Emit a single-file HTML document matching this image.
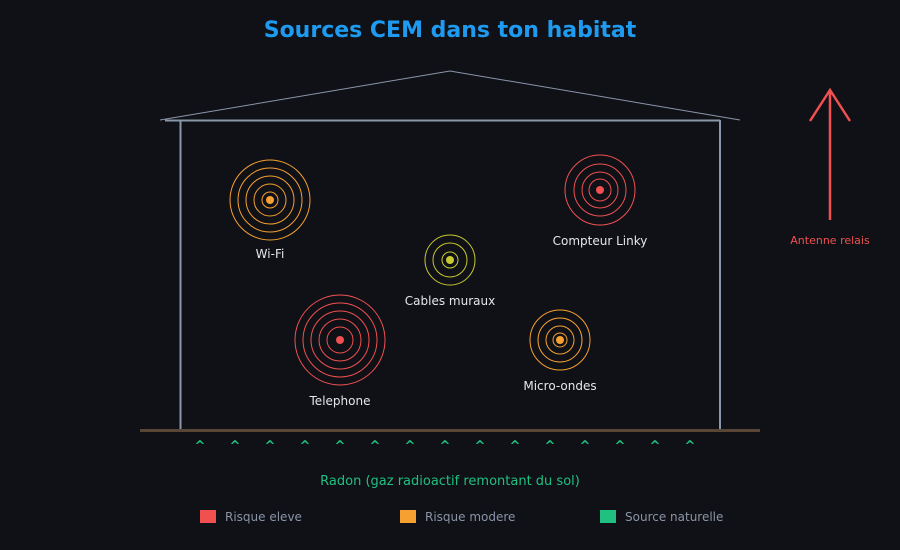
<!DOCTYPE html>
<html><head><meta charset="utf-8"><style>
html,body{margin:0;padding:0;background:#0f1117;}
svg{display:block;font-family:"DejaVu Sans","Liberation Sans",sans-serif;}
</style></head><body>
<svg width="900" height="550" viewBox="0 0 900 550">
<rect width="900" height="550" fill="#0f1117"/>
<text x="450" y="37" text-anchor="middle" font-size="22" font-weight="bold" fill="#1e9bf0">Sources CEM dans ton habitat</text>
<polyline points="160,120 450,71 740,120" fill="none" stroke="#8a96aa" stroke-width="1"/>
<line x1="165" y1="120.5" x2="720" y2="120.5" stroke="#8a96aa" stroke-width="2"/>
<line x1="180.5" y1="120" x2="180.5" y2="430" stroke="#8a96aa" stroke-width="2"/>
<line x1="720" y1="120" x2="720" y2="430" stroke="#8a96aa" stroke-width="2"/>
<line x1="140" y1="430.5" x2="760" y2="430.5" stroke="#5a4636" stroke-width="3"/>
<g fill="none" stroke="#f5a030" stroke-width="1">
<circle cx="270" cy="200" r="8"/><circle cx="270" cy="200" r="16"/><circle cx="270" cy="200" r="24"/><circle cx="270" cy="200" r="32"/><circle cx="270" cy="200" r="40"/>
<circle cx="560" cy="340" r="7"/><circle cx="560" cy="340" r="14"/><circle cx="560" cy="340" r="22"/><circle cx="560" cy="340" r="30"/>
</g>
<g fill="none" stroke="#f05050" stroke-width="1">
<circle cx="340" cy="340" r="13"/><circle cx="340" cy="340" r="21"/><circle cx="340" cy="340" r="29"/><circle cx="340" cy="340" r="37"/><circle cx="340" cy="340" r="45"/>
<circle cx="600" cy="190" r="11"/><circle cx="600" cy="190" r="18"/><circle cx="600" cy="190" r="26"/><circle cx="600" cy="190" r="35"/>
</g>
<g fill="none" stroke="#c8c830" stroke-width="1">
<circle cx="450" cy="260" r="8"/><circle cx="450" cy="260" r="17"/><circle cx="450" cy="260" r="25"/>
</g>
<circle cx="270" cy="200" r="4" fill="#f5a030"/>
<circle cx="560" cy="340" r="4" fill="#f5a030"/>
<circle cx="340" cy="340" r="4" fill="#f05050"/>
<circle cx="600" cy="190" r="4" fill="#f05050"/>
<circle cx="450" cy="260" r="4" fill="#c8c830"/>
<g font-size="12" fill="#e4e6ea" text-anchor="middle">
<text x="270" y="258">Wi-Fi</text>
<text x="600" y="245">Compteur Linky</text>
<text x="450" y="305">Cables muraux</text>
<text x="340" y="405">Telephone</text>
<text x="560" y="390">Micro-ondes</text>
</g>
<g stroke="#f05050" stroke-width="2.5" fill="none">
<line x1="830" y1="220" x2="830" y2="90"/>
<polyline points="810,121 830,90 850,121"/>
</g>
<text x="830" y="244" text-anchor="middle" font-size="11" fill="#f05050">Antenne relais</text>
<g font-size="13" font-weight="bold" fill="#20c080" text-anchor="middle">
<text x="200" y="450">^</text><text x="235" y="450">^</text><text x="270" y="450">^</text><text x="305" y="450">^</text><text x="340" y="450">^</text><text x="375" y="450">^</text><text x="410" y="450">^</text><text x="445" y="450">^</text><text x="480" y="450">^</text><text x="515" y="450">^</text><text x="550" y="450">^</text><text x="585" y="450">^</text><text x="620" y="450">^</text><text x="655" y="450">^</text><text x="690" y="450">^</text>
</g>
<text x="450" y="485" text-anchor="middle" font-size="13" fill="#20c080">Radon (gaz radioactif remontant du sol)</text>
<rect x="200" y="510" width="16" height="13" fill="#f05050"/>
<text x="225" y="521" font-size="12" fill="#8a94a6">Risque eleve</text>
<rect x="400" y="510" width="16" height="13" fill="#f5a030"/>
<text x="425" y="521" font-size="12" fill="#8a94a6">Risque modere</text>
<rect x="600" y="510" width="16" height="13" fill="#20c080"/>
<text x="625" y="521" font-size="12" fill="#8a94a6">Source naturelle</text>
</svg>
</body></html>
